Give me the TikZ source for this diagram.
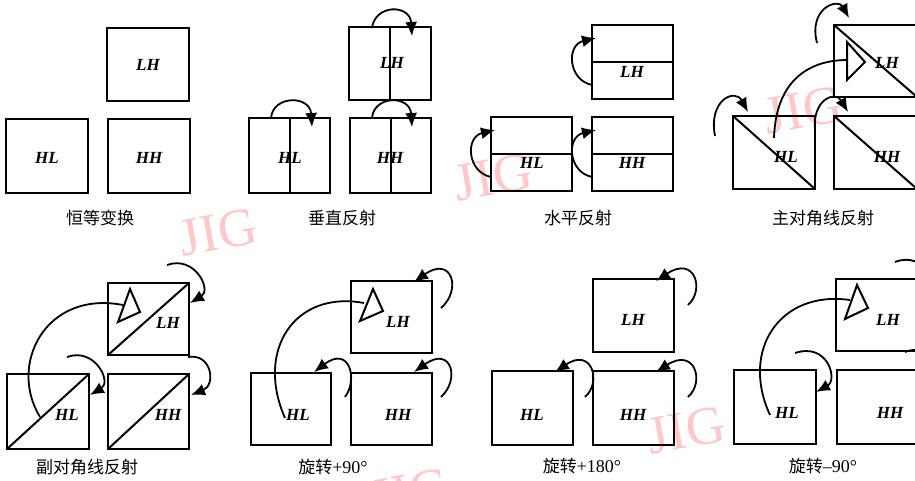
\documentclass[tikz,border=0pt]{standalone}
\usepackage{fontspec}
\setmainfont{Liberation Serif}
\newfontfamily\cjk{Noto Sans CJK SC}
\usetikzlibrary{arrows.meta}

% square sub-band box given by its corners (x1,y1) (x2,y2)
\newcommand\pbox[5]{%
  \pgfmathsetmacro\pbw{#4-#2}\pgfmathsetmacro\pbh{#5-#3}%
  \node[box,minimum width=\pbw pt,minimum height=\pbh pt] (#1) at ({(#2+#4)/2},{(#3+#5)/2}) {};}

\tikzset{
  box/.style={draw,line width=2.4pt,inner sep=0pt,outer sep=0pt},
  split/.style={line width=2pt},
  tag/.style={font=\bfseries\itshape\fontsize{17}{17}\selectfont,inner sep=0pt},
  captext/.style={font=\cjk\fontsize{17}{18}\selectfont,inner sep=0pt},
  turn/.style={line width=1.8pt,-{Latex[length=14pt,width=12pt]}},
  sweep/.style={line width=1.8pt},
  tri/.style={line width=2pt,line join=miter},
  wmark/.style={text=red!22,font=\fontsize{54}{54}\selectfont,rotate=10,inner sep=0pt}
}

\begin{document}
\begin{tikzpicture}[x=1pt,y=-1pt]
\useasboundingbox (0,0) rectangle (915,480);
\clip (0,0) rectangle (915,480);
\fill[white] (0,0) rectangle (915,480);

% faint stamps
\node[wmark] (wm1) at (218,232) {JIG};
\node[wmark] (wm2) at (493,177) {JIG};
\node[wmark] (wm3) at (803,110) {JIG};
\node[wmark] (wm4) at (686,430) {JIG};
\node[wmark] (wm5) at (410,492) {JIG};

% ---- identity
\pbox{ia-lh}{107}{28}{189}{101}
\pbox{ia-hl}{6}{119}{88}{193}
\pbox{ia-hh}{108}{119}{190}{193}
\node[tag] (ia-lh-t) at (148,65) {LH};
\node[tag] (ia-hl-t) at (47,158) {HL};
\node[tag] (ia-hh-t) at (149,158) {HH};
\node[captext] (ia-c) at (100,218) {恒等变换};

% ---- vertical reflection
\pbox{vr-lh}{349}{27}{431}{100}
\pbox{vr-hl}{249}{118}{330}{193}
\pbox{vr-hh}{350}{118}{431}{193}
\node[tag] (vr-lh-t) at (392,63) {LH};
\node[tag] (vr-hl-t) at (290,158) {HL};
\node[tag] (vr-hh-t) at (390,158) {HH};
\draw[split] (vr-lh.north) -- (vr-lh.south);
\draw[split] (vr-hl.north) -- (vr-hl.south);
\draw[split] (vr-hh.north) -- (vr-hh.south);
\draw[turn] (372,28) .. controls (375,4) and (410,4) .. (412,36);
\draw[turn] (271,118) .. controls (273,95) and (310,95) .. (312,127);
\draw[turn] (372,118) .. controls (374,95) and (410,95) .. (412,127);
\node[captext] (vr-c) at (342,218) {垂直反射};

% ---- horizontal reflection
\pbox{hr-lh}{592}{25}{673}{99}
\pbox{hr-hl}{491}{117}{572}{191}
\pbox{hr-hh}{592}{117}{673}{191}
\draw[split] (hr-lh.west) -- (hr-lh.east);
\draw[split] (hr-hl.west) -- (hr-hl.east);
\draw[split] (hr-hh.west) -- (hr-hh.east);
\node[tag] (hr-lh-t) at (632,72) {LH};
\node[tag] (hr-hl-t) at (532,163) {HL};
\node[tag] (hr-hh-t) at (632,163) {HH};
\draw[turn] (592,85) .. controls (568,80) and (566,45) .. (596,38);
\draw[turn] (491,177) .. controls (467,172) and (465,137) .. (495,130);
\draw[turn] (592,177) .. controls (568,172) and (566,137) .. (596,130);
\node[captext] (hr-c) at (578,218) {水平反射};

% ---- main diagonal reflection
\pbox{md-lh}{834}{25}{917}{97}
\pbox{md-hl}{733}{116}{815}{189}
\pbox{md-hh}{834}{116}{917}{189}
\draw[split] (md-lh.north west) -- (md-lh.south east);
\draw[split] (md-hl.north west) -- (md-hl.south east);
\draw[split] (md-hh.north west) -- (md-hh.south east);
\node[tag] (md-lh-t) at (887,63) {LH};
\node[tag] (md-hl-t) at (786,157) {HL};
\node[tag] (md-hh-t) at (887,157) {HH};
\draw[tri] (847,42) -- (865,62) -- (847,80) -- cycle;
\draw[sweep] (774,138) .. controls (776,75) and (815,60) .. (847,60);
\draw[turn] (715,136) .. controls (708,100) and (735,88) .. (748,112);
\draw[turn] (817,43) .. controls (808,8) and (838,-2) .. (849,18);
\draw[turn] (815,130) .. controls (812,100) and (835,90) .. (848,112);
\node[captext] (md-c) at (823,218) {主对角线反射};

% ---- anti-diagonal reflection
\pbox{ad-lh}{108}{283}{189}{355}
\pbox{ad-hl}{7}{374}{89}{449}
\pbox{ad-hh}{108}{374}{189}{449}
\draw[split] (ad-lh.south west) -- (ad-lh.north east);
\draw[split] (ad-hl.south west) -- (ad-hl.north east);
\draw[split] (ad-hh.south west) -- (ad-hh.north east);
\node[tag] (ad-lh-t) at (168,323) {LH};
\node[tag] (ad-hl-t) at (67,415) {HL};
\node[tag] (ad-hh-t) at (168,415) {HH};
\draw[tri] (130,289) -- (140,312) -- (118,322) -- cycle;
\draw[sweep] (40,417) .. controls (8,365) and (45,290) .. (123,305);
\draw[turn] (167,265) .. controls (195,255) and (212,290) .. (190,303);
\draw[turn] (67,357) .. controls (95,347) and (112,382) .. (90,395);
\draw[turn] (188,357) .. controls (212,353) and (216,385) .. (191,395);
\node[captext] (ad-c) at (87,467) {副对角线反射};

% ---- rotation +90
\pbox{rp-lh}{351}{281}{432}{353}
\pbox{rp-hl}{251}{373}{331}{445}
\pbox{rp-hh}{351}{373}{432}{445}
\node[tag] (rp-lh-t) at (398,322) {LH};
\node[tag] (rp-hl-t) at (298,415) {HL};
\node[tag] (rp-hh-t) at (398,415) {HH};
\draw[tri] (373,289) -- (383,311) -- (360,321) -- cycle;
\draw[sweep] (285,418) .. controls (255,350) and (295,290) .. (364,303);
\draw[turn] (441,308) .. controls (462,290) and (452,255) .. (414,282);
\draw[turn] (345,397) .. controls (358,380) and (350,345) .. (314,372);
\draw[turn] (441,397) .. controls (460,380) and (452,345) .. (414,372);
\node[captext] (rp-c) at (333,467) {旋转{\rmfamily\fontsize{18}{18}\selectfont +90°}};

% ---- rotation +180
\pbox{rh-lh}{593}{279}{674}{352}
\pbox{rh-hl}{492}{371}{573}{445}
\pbox{rh-hh}{593}{371}{674}{445}
\node[tag] (rh-lh-t) at (633,320) {LH};
\node[tag] (rh-hl-t) at (532,415) {HL};
\node[tag] (rh-hh-t) at (633,415) {HH};
\draw[turn] (688,305) .. controls (705,290) and (695,255) .. (656,281);
\draw[turn] (585,397) .. controls (602,382) and (592,347) .. (555,372);
\draw[turn] (688,397) .. controls (705,382) and (695,347) .. (656,372);
\node[captext] (rh-c) at (582,466) {旋转{\rmfamily\fontsize{18}{18}\selectfont +180°}};

% ---- rotation -90
\pbox{rm-lh}{836}{279}{918}{351}
\pbox{rm-hl}{734}{370}{816}{444}
\pbox{rm-hh}{837}{370}{918}{444}
\node[tag] (rm-lh-t) at (888,320) {LH};
\node[tag] (rm-hl-t) at (787,413) {HL};
\node[tag] (rm-hh-t) at (890,413) {HH};
\draw[tri] (857,285) -- (868,308) -- (845,319) -- cycle;
\draw[sweep] (770,415) .. controls (740,350) and (780,290) .. (850,300);
\draw[turn] (795,353) .. controls (828,342) and (838,380) .. (816,392);
\draw[turn] (895,262) .. controls (925,250) and (945,290) .. (920,302);
\draw[turn] (905,352) .. controls (935,340) and (955,380) .. (925,392);
\node[captext] (rm-c) at (823,466) {旋转{\rmfamily\fontsize{18}{18}\selectfont –90°}};
\end{tikzpicture}
\end{document}
